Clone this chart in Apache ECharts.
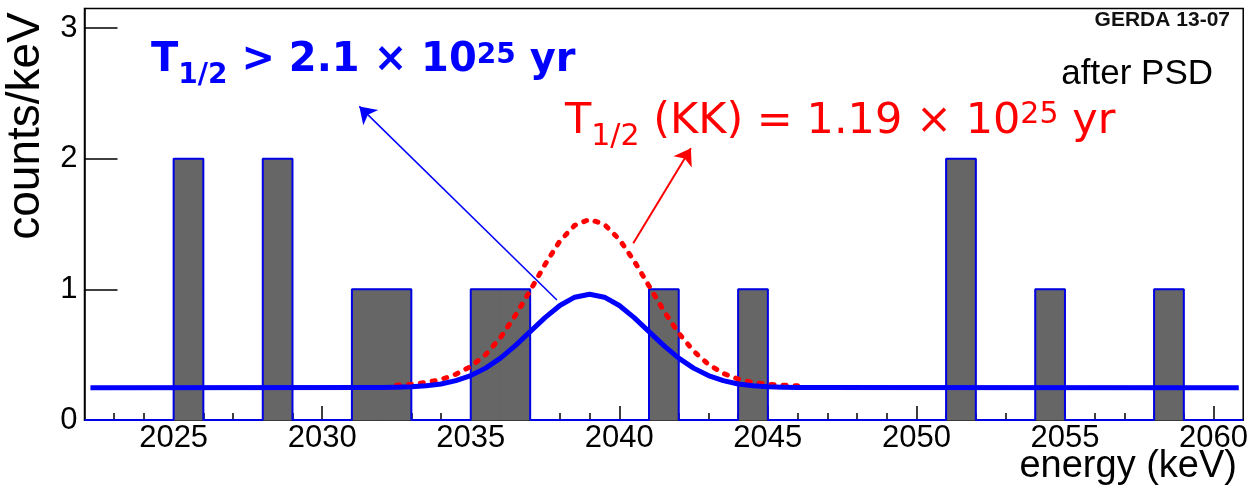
<!DOCTYPE html>
<html>
<head>
<meta charset="utf-8">
<script src="https://cdn.jsdelivr.net/npm/echarts@6/dist/echarts.min.js"></script>
<style>
html,body{margin:0;padding:0;background:#fff;}
#chart{width:1251px;height:492px;}
</style>
</head>
<body>
<div id="chart"></div>
<script>
// ---------- data ----------
const xMin = 2022, xMax = 2061, yMax = 3.15;
const binStart = 2022, binWidth = 1;
const counts = [0,0,0,2,0,0,2,0,0,1, 1,0,0,1,1,0,0,0,0,1, 0,0,1,0,0,0,0,0,0,2, 0,0,1,0,0,0,1,0,0];

const xMajorTicks = [2025, 2030, 2035, 2040, 2045, 2050, 2055, 2060];
const xMinorTicks = [2023,2024,2026,2027,2028,2029,2031,2032,2033,2034,2036,2037,2038,2039,2041,2042,2043,2044,2046,2047,2048,2049,2051,2052,2053,2054,2056,2057,2058,2059];
const yTicks = [0, 1, 2, 3];

// fit curve (background + signal upper limit), blue
const blueE = [2022.2, 2032, 2032.5, 2033, 2033.5, 2034, 2034.5, 2035, 2035.5, 2036, 2036.5, 2037, 2037.5, 2038, 2038.5, 2039, 2039.5, 2040, 2040.5, 2041, 2041.5, 2042, 2042.5, 2043, 2043.5, 2044, 2044.5, 2045, 2045.5, 2046, 2060.85];
const blueV = [0.247, 0.248, 0.250, 0.254, 0.262, 0.276, 0.301, 0.340, 0.397, 0.474, 0.569, 0.676, 0.783, 0.876, 0.940, 0.962, 0.940, 0.876, 0.783, 0.676, 0.569, 0.474, 0.397, 0.340, 0.301, 0.276, 0.262, 0.254, 0.250, 0.248, 0.247];

// KK claim expectation, red dashed
const redE = [2032.5, 2033, 2033.5, 2034, 2034.5, 2035, 2035.5, 2036, 2036.5, 2037, 2037.5, 2038, 2038.5, 2039, 2039.5, 2040, 2040.5, 2041, 2041.5, 2042, 2042.5, 2043, 2043.5, 2044, 2044.5, 2045, 2045.5, 2046];
const redV = [0.266, 0.273, 0.287, 0.31, 0.35, 0.41, 0.50, 0.63, 0.80, 0.99, 1.19, 1.37, 1.49, 1.536, 1.496, 1.383, 1.217, 1.026, 0.835, 0.664, 0.528, 0.426, 0.356, 0.313, 0.287, 0.273, 0.266, 0.262];

// arrows [tailE, tailY, headE, headY]
const blueArrow = [2037.9, 0.918, 2031.25, 2.40];
const redArrow = [2040.47, 1.352, 2042.41, 2.08];

// ---------- build ----------
const bars = counts.map((c, i) => [binStart + i * binWidth, binStart + (i + 1) * binWidth, c]);
const outline = [[xMin, 0]];
bars.forEach(b => { outline.push([b[0], b[2]]); outline.push([b[1], b[2]]); });
outline.push([xMax, 0]);

const blueData = blueE.map((e, i) => [e, blueV[i]]);
const redData = redE.map((e, i) => [e, redV[i]]);

const cv = document.createElement('canvas').getContext('2d');
function mw(t, font) { cv.font = font; return cv.measureText(t).width; }
function pieces(x0, base, list, color, fam, weight) {
  const out = [];
  let x = x0;
  list.forEach(p => {
    const font = weight + ' ' + p.size + 'px ' + fam;
    out.push({
      type: 'text', x: x, y: base + p.dy - 0.35 * p.size, silent: true, z: 100,
      style: { text: p.t, font: font, fill: color, align: 'left', verticalAlign: 'middle' }
    });
    x += mw(p.t, font);
  });
  return out;
}
const dv = '"DejaVu Sans"';
const blueText = pieces(151, 75, [
  {t: 'T', size: 40, dy: 0},
  {t: '1/2', size: 28, dy: 10.5},
  {t: ' > 2.1 \u00d7 10', size: 40, dy: 0},
  {t: '25', size: 28, dy: -9.6},
  {t: ' yr', size: 40, dy: 0}
], '#0000ff', dv, 'bold');
const redText = pieces(565, 137, [
  {t: 'T', size: 43, dy: 0},
  {t: '1/2', size: 30, dy: 11},
  {t: ' (KK) = 1.19 \u00d7 10', size: 43, dy: 0},
  {t: '25', size: 30, dy: -11},
  {t: ' yr', size: 43, dy: 0}
], '#ff0000', dv, 'normal');

const lib = '"Liberation Sans"';
const chart = echarts.init(document.getElementById('chart'));
chart.setOption({
  animation: false,
  backgroundColor: '#fff',
  grid: { left: 84.5, right: 4, top: 8.4, bottom: 72, show: true, borderColor: '#000', borderWidth: 1.5, backgroundColor: 'transparent' },
  xAxis: [{
    type: 'value', min: xMin, max: xMax,
    axisLine: { show: true, lineStyle: { color: '#000', width: 1.5 } },
    axisTick: { show: true, inside: true, length: 14, customValues: xMajorTicks, lineStyle: { color: '#000', width: 1.5 } },
    axisLabel: { customValues: xMajorTicks, formatter: v => String(v), color: '#000', fontSize: 31, fontFamily: lib, margin: 3 },
    splitLine: { show: false }
  }, {
    type: 'value', min: xMin, max: xMax, position: 'bottom',
    axisLine: { show: false },
    axisTick: { show: true, inside: true, length: 7, customValues: xMinorTicks, lineStyle: { color: '#000', width: 1.5 } },
    axisLabel: { show: false },
    splitLine: { show: false }
  }],
  yAxis: {
    type: 'value', min: 0, max: yMax,
    axisLine: { show: true, lineStyle: { color: '#000', width: 1.5 } },
    axisTick: { show: true, inside: true, length: 33, customValues: yTicks, lineStyle: { color: '#000', width: 1.5 } },
    axisLabel: { customValues: yTicks, formatter: v => String(v), color: '#000', fontSize: 31, fontFamily: lib, margin: 7 },
    splitLine: { show: false }
  },
  series: [
    {
      type: 'custom', data: bars, silent: true, z: 2,
      renderItem: function (params, api) {
        const c = api.value(2);
        if (c <= 0) return null;
        const p0 = api.coord([api.value(0), c]);
        const p1 = api.coord([api.value(1), 0]);
        return { type: 'rect', shape: { x: p0[0], y: p0[1], width: p1[0] - p0[0], height: p1[1] - p0[1] }, style: { fill: '#666666', stroke: '#666666', lineWidth: 1 } };
      }
    },
    {
      type: 'line', data: outline, symbol: 'none', silent: true, z: 3,
      lineStyle: { color: '#0000e6', width: 2 }
    },
    {
      type: 'line', data: redData, symbol: 'none', silent: true, z: 4,
      smooth: false,
      lineStyle: { color: '#ff0000', width: 5, type: [3, 9], cap: 'round', join: 'round' },
      markLine: {
        silent: true, symbol: ['none', 'arrow'], symbolSize: 16, label: { show: false },
        lineStyle: { color: '#ff0000', width: 2, type: 'solid' },
        data: [[{ coord: [redArrow[0], redArrow[1]] }, { coord: [redArrow[2], redArrow[3]] }]]
      }
    },
    {
      type: 'line', data: blueData, symbol: 'none', silent: true, z: 5,
      smooth: false,
      lineStyle: { color: '#0000ff', width: 5, join: 'round' },
      markLine: {
        silent: true, symbol: ['none', 'arrow'], symbolSize: 16, label: { show: false },
        lineStyle: { color: '#0000ff', width: 1.5, type: 'solid' },
        data: [[{ coord: [blueArrow[0], blueArrow[1]] }, { coord: [blueArrow[2], blueArrow[3]] }]]
      }
    }
  ],
  graphic: [].concat(blueText, redText, [
    { type: 'text', x: 1230, y: 20, silent: true, style: { text: 'GERDA 13-07', font: 'bold 21px ' + lib, fill: '#111', align: 'right', verticalAlign: 'middle' } },
    { type: 'text', x: 1213, y: 87 - 0.35 * 35, silent: true, style: { text: 'after PSD', font: '35px ' + lib, fill: '#000', align: 'right', verticalAlign: 'middle' } },
    { type: 'text', x: 1237, y: 480 - 0.35 * 38, silent: true, style: { text: 'energy (keV)', font: '38px ' + lib, fill: '#000', align: 'right', verticalAlign: 'middle' } },
    { type: 'text', x: 26, y: 126, rotation: Math.PI / 2, silent: true, style: { text: 'counts/keV', font: '46px ' + lib, fill: '#000', align: 'center', verticalAlign: 'middle' } }
  ])
});
</script>
</body>
</html>
